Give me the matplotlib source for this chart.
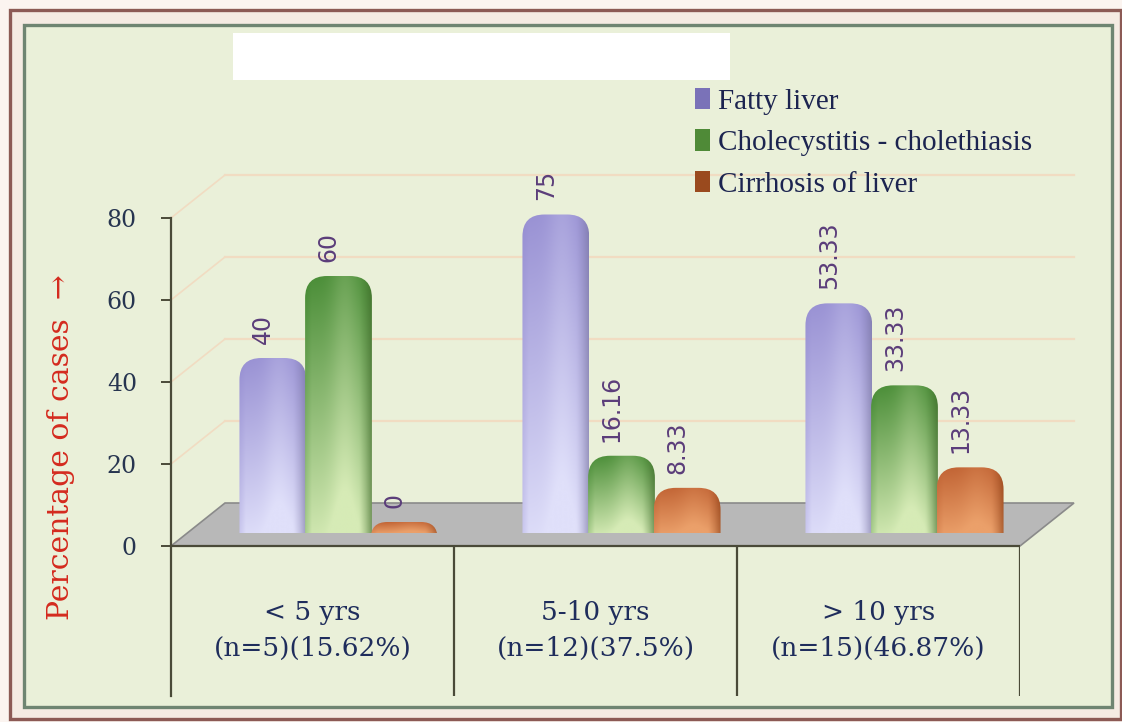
import matplotlib
matplotlib.use("Agg")
import matplotlib.pyplot as plt
import matplotlib.transforms as mtransforms
from matplotlib.patches import Rectangle, Polygon, FancyBboxPatch, Patch
import numpy as np

# data
categories = ["< 5 yrs\n(n=5)(15.62%)", "5-10 yrs\n(n=12)(37.5%)", "> 10 yrs\n(n=15)(46.87%)"]
series_names = ["Fatty liver", "Cholecystitis - cholethiasis", "Cirrhosis of liver"]
fatty = [40, 75, 53.33]
chole = [60, 16.16, 33.33]
cirrhosis = [0, 8.33, 13.33]
y_ticks = [0, 20, 40, 60, 80]

# look
dark_cols = ["#8b82cc", "#2f7b1f", "#b9582a"]
light_cols = ["#e0e0fa", "#d6ebb6", "#eba06a"]
edge_cols = ["#77739f", "#3b6526", "#86380f"]
legend_cols = ["#7a72b8", "#4f8a37", "#9a4a1e"]

W, H = 1122, 722
fig = plt.figure(figsize=(W / 100, H / 100), dpi=100)
fig.patch.set_facecolor("#fbf4f0")

def px_box(x0, y0, x1, y1):
    # pixel box (from top-left) -> figure fraction rect
    return (x0 / W, 1 - y1 / H), (x1 - x0) / W, (y1 - y0) / H

# frames (behind the axes)
xy, w, h = px_box(10, 10, 1121, 719)
fig.add_artist(Rectangle(xy, w, h, transform=fig.transFigure, fc="#f5ebe3", ec="#8c5a55", lw=2.4, zorder=-3))
xy, w, h = px_box(24, 25, 1112, 707)
fig.add_artist(Rectangle(xy, w, h, transform=fig.transFigure, fc="#eaf0d9", ec="#6f8572", lw=2.4, zorder=-2))
xy, w, h = px_box(233, 33, 730, 80)
fig.add_artist(Rectangle(xy, w, h, transform=fig.transFigure, fc="white", ec="none", zorder=2))

# axes: front plane of the 3d box, 0 at y=546px, 4.1 px per unit
x_left, x_right = 171, 1020
y_zero, ppu_y = 546, 4.1
ppu_x = (x_right - x_left) / 3.0
ax_top, ax_bot = 25, 700
ax = fig.add_axes([x_left / W, 1 - ax_bot / H, (x_right - x_left) / W, (ax_bot - ax_top) / H])
ax.set_facecolor("none")
ax.set_xlim(-0.5, 2.5)
ax.set_ylim(-(ax_bot - y_zero) / ppu_y, (y_zero - ax_top) / ppu_y)

# depth offsets (pixels) for back wall and bars
back_dx, back_dy = 54, 43
bar_dx, bar_dy = 26, 13
back_trans = mtransforms.offset_copy(ax.transData, fig=fig, x=back_dx, y=back_dy, units="dots")
bar_trans = mtransforms.offset_copy(ax.transData, fig=fig, x=bar_dx, y=bar_dy, units="dots")
ddx, ddy = back_dx / ppu_x, back_dy / ppu_y

# back wall grid
for t in y_ticks[1:]:
    ax.plot([-0.5, 2.5], [t, t], transform=back_trans, color="#f1dcc2", lw=1.6, zorder=0.5, clip_on=False)
    ax.plot([-0.5, -0.5 + ddx], [t, t + ddy], color="#f1dcc2", lw=1.2, zorder=0.5, clip_on=False)

# floor
floor = Polygon([(-0.5, 0), (2.5, 0), (2.5 + ddx, ddy), (-0.5 + ddx, ddy)],
                closed=True, fc="#b8b8b8", ec="#8a8a8a", lw=1.2, zorder=1, clip_on=False)
ax.add_patch(floor)

def bar_gradient(k):
    d = np.array(matplotlib.colors.to_rgb(dark_cols[k]))
    l = np.array(matplotlib.colors.to_rgb(light_cols[k]))
    e = np.array(matplotlib.colors.to_rgb(edge_cols[k]))
    u = np.linspace(0, 1, 80)[None, :, None]
    v = np.linspace(0, 1, 120)[:, None, None]
    t = 0.95 - 0.78 * v + 0.18 * np.exp(-((u - 0.6) / 0.22) ** 2)
    t = np.clip(t, 0, 1)
    col = d * (1 - t) + l * t
    er = np.clip((u - 0.8) / 0.2, 0, 1) ** 1.5 * 0.6
    el = np.clip((0.1 - u) / 0.1, 0, 1) * 0.25
    col = col * (1 - er) + e * er
    col = col * (1 - el) + d * el
    return col

# bars
spacing, width = 0.232, 0.236
cap_px, round_px = 11, 22
series = [fatty, chole, cirrhosis]
for k, vals in enumerate(series):
    grad = bar_gradient(k)
    for i, val in enumerate(vals):
        xc = i + (k - 1) * spacing
        x0 = xc - width / 2
        top = val + cap_px / ppu_y
        bottom = -round_px / ppu_y
        total_px = (top - bottom) * ppu_y
        r = min(round_px, total_px / 2) / ppu_x
        clip = FancyBboxPatch((x0, bottom), width, top - bottom,
                              boxstyle="round,pad=0,rounding_size=%f" % r,
                              mutation_aspect=ppu_x / ppu_y, transform=bar_trans)
        im = ax.imshow(grad, extent=[x0, x0 + width, 0, top], origin="lower",
                       aspect="auto", interpolation="bilinear", transform=bar_trans,
                       zorder=3 + k * 0.1)
        im.set_clip_path(clip)
        ax.annotate("{:g}".format(val), xy=(xc, val), xycoords=bar_trans,
                    xytext=(-7, 18), textcoords="offset points", rotation=90,
                    ha="center", va="bottom", fontsize=17, color="#5b3d7a",
                    family="DejaVu Sans", zorder=6)

# front edge + table
ax.plot([-0.5, 2.5], [0, 0], color="#4a4a38", lw=1.6, zorder=4)
ax.vlines([0.5, 1.5, 2.5], -36.5, 0, color="#4a4a38", lw=1.6)
for i, lab in enumerate(categories):
    ax.text(i, -20.5, lab, ha="center", va="center", fontsize=19, family="DejaVu Serif",
            color="#1f2d5c", linespacing=1.55)

# axis
for s in ["top", "right", "bottom"]:
    ax.spines[s].set_visible(False)
ax.spines["left"].set_bounds(-36.5, 80)
ax.spines["left"].set_color("#4a4a38")
ax.spines["left"].set_linewidth(1.6)
ax.set_xticks([])
ax.set_yticks(y_ticks)
ax.set_yticklabels([str(t) for t in y_ticks], family="DejaVu Serif", fontsize=17, color="#273550")
ax.tick_params(axis="y", length=7.5, width=1.4, color="#4a4a38", pad=17)
ax.set_xlim(-0.5, 2.5)
ax.set_ylim(-(ax_bot - y_zero) / ppu_y, (y_zero - ax_top) / ppu_y)

fig.text(61 / W, 1 - 447 / H, "Percentage of cases  \u2192", rotation=90, ha="center", va="center",
         fontsize=21.5, family="DejaVu Serif", color="#d42a1e")

# legend
handles = [Patch(fc=c, ec="none") for c in legend_cols]
fig.legend(handles, series_names, loc="upper left", bbox_to_anchor=(695 / W, 1 - 88 / H),
           frameon=False, prop={"family": "Liberation Serif", "size": 21},
           handlelength=0.5, handleheight=0.75, handletextpad=0.3, labelspacing=0.5,
           labelcolor="#1c2450", borderaxespad=0, borderpad=0)

fig.savefig("out.png", dpi=100, facecolor=fig.get_facecolor())
